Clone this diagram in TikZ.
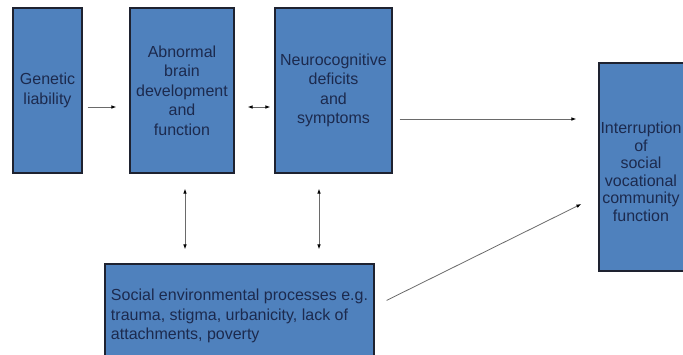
\documentclass[tikz,border=0pt]{standalone}
\usepackage{fontspec}
\setmainfont{Liberation Sans}
\usetikzlibrary{arrows.meta,calc}
\definecolor{boxblue}{HTML}{4F81BD}
\definecolor{txtcol}{HTML}{1C2A4E}
\definecolor{edgecol}{HTML}{1E2230}
\definecolor{lincol}{HTML}{6A6A6A}
\begin{document}
\begin{tikzpicture}[x=1pt,y=-1pt,
  box/.style={draw=edgecol,line width=1.2pt,fill=boxblue,text=txtcol,inner sep=0pt,align=center,font=\fontsize{16}{19.5}\selectfont},
  tip/.tip={Latex[length=5pt,width=3.6pt,color=black]},
  arr/.style={draw=lincol,line width=0.8pt,-tip},
  darr/.style={draw=lincol,line width=0.8pt,tip-tip}]
\fill[white] (0,0) rectangle (683,354);
\useasboundingbox (0,0) rectangle (683,354);

\node[box,minimum width=69pt,minimum height=165pt] (gen) at (47.5,90.5) {Genetic\\liability};
\node[box,minimum width=104pt,minimum height=165pt] (abn) at (182,90.5) {Abnormal\\brain\\development\\and\\function};
\node[box,minimum width=117pt,minimum height=165pt] (neu) at (333.5,90.5) {Neurocognitive\\deficits\\and\\symptoms};
\node[box,minimum width=92pt,minimum height=208pt,
  label={[xshift=-4pt,yshift=-5pt,text=txtcol,align=center,font=\fontsize{16}{17.5}\selectfont,inner sep=0pt]center:Interruption\\of\\social\\vocational\\community\\function}] (int) at (645,167) {};
\node[box,minimum width=269pt,minimum height=104pt,align=left] (soc) at (239.5,316) {Social environmental processes e.g.\\trauma, stigma, urbanicity, lack of\\attachments, poverty};

\draw[arr] ($(gen.east)+(5,16.5)$) -- ($(abn.west)+(-13,16.5)$);
\draw[darr] ($(abn.east)+(13,16.5)$) -- ($(neu.west)+(-4,16.5)$);
\draw[arr] ($(neu.east)+(7,28.5)$) -- ($(int.west)+(-22,-48)$);
\draw[darr] ($(abn.south)+(3,15)$) -- ($(abn.south |- soc.north)+(3,-14)$);
\draw[darr] ($(neu.south)+(-14.5,15)$) -- ($(neu.south |- soc.north)+(-14.5,-14)$);
\draw[arr] ($(soc.north east)+(12,37)$) -- ($(int.west)+(-17,37)$);
\end{tikzpicture}
\end{document}
